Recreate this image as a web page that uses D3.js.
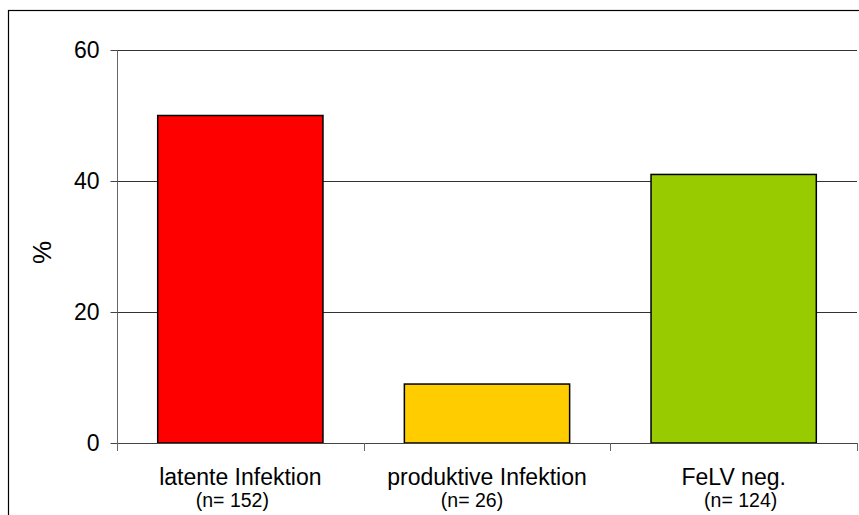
<!DOCTYPE html>
<html>
<head>
<meta charset="utf-8">
<script src="https://cdn.jsdelivr.net/npm/d3@7"></script>
<style>
  html, body { margin: 0; padding: 0; background: #fff; }
  svg { display: block; font-family: "Liberation Sans", Arial, sans-serif; }
</style>
</head>
<body>
<svg id="chart" width="859" height="515"></svg>
<script>
// Share of cats per FeLV status (%)
const categories = ["latente Infektion", "produktive Infektion", "FeLV neg."];
const counts = ["(n= 152)", "(n= 26)", "(n= 124)"];
const percent = [50, 9, 41];
const barColors = ["#ff0000", "#ffcc00", "#99cc00"];
const yTicks = [0, 20, 40, 60];
const yLabel = "%";

const svg = d3.select("#chart");
const plot = { left: 117, right: 857, top: 50, bottom: 443 };

// outer chart frame (runs past the right and bottom edges)
svg.append("rect")
  .attr("x", 8.5).attr("y", 10.5)
  .attr("width", 900).attr("height", 600)
  .attr("fill", "none").attr("stroke", "#000").attr("stroke-width", 1.2);

const x = d3.scaleBand()
  .domain(categories)
  .range([plot.left, plot.right])
  .paddingInner(0.33)
  .paddingOuter(0.165);

const y = d3.scaleLinear()
  .domain([0, 60])
  .range([plot.bottom, plot.top]);

// horizontal gridlines
svg.append("g")
  .selectAll("line")
  .data(yTicks.filter(d => d > 0))
  .join("line")
  .attr("x1", plot.left).attr("x2", plot.right)
  .attr("y1", d => Math.round(y(d)) + 0.5).attr("y2", d => Math.round(y(d)) + 0.5)
  .attr("stroke", "#333").attr("stroke-width", 1);

// bars
svg.append("g")
  .selectAll("rect")
  .data(categories)
  .join("rect")
  .attr("x", d => x(d))
  .attr("width", x.bandwidth())
  .attr("y", (d, i) => y(percent[i]))
  .attr("height", (d, i) => y(0) - y(percent[i]))
  .attr("fill", (d, i) => barColors[i])
  .attr("stroke", "#000")
  .attr("stroke-width", 1.5);

// y axis
const yAxis = svg.append("g")
  .attr("transform", `translate(${plot.left + 0.5},0)`)
  .call(d3.axisLeft(y).tickValues(yTicks).tickSize(7).tickPadding(11).tickFormat(d3.format("d")));
yAxis.select(".domain").attr("stroke", "#666").attr("d", `M0,${plot.top}V${plot.bottom + 8}`);
yAxis.selectAll(".tick line").attr("stroke", "#444");
yAxis.selectAll(".tick text")
  .attr("font-size", 23).attr("fill", "#000")
  .attr("font-family", "Liberation Sans, Arial, sans-serif");

// x axis line with ticks at the category boundaries
const xg = svg.append("g");
xg.append("line")
  .attr("x1", plot.left).attr("x2", plot.right)
  .attr("y1", plot.bottom + 0.5).attr("y2", plot.bottom + 0.5)
  .attr("stroke", "#444");
const bounds = d3.range(categories.length + 1).map(i => plot.left + i * (plot.right - plot.left) / categories.length);
xg.selectAll("line.tk")
  .data(bounds)
  .join("line")
  .attr("class", "tk")
  .attr("x1", d => Math.round(d) + 0.5).attr("x2", d => Math.round(d) + 0.5)
  .attr("y1", plot.bottom).attr("y2", plot.bottom + 8)
  .attr("stroke", "#666");

// category labels with sample sizes underneath
const nShift = [-8, -15, 7];
const labels = svg.append("g").attr("text-anchor", "middle").attr("fill", "#000");
labels.selectAll("text.cat")
  .data(categories)
  .join("text")
  .attr("class", "cat")
  .attr("x", d => x(d) + x.bandwidth() / 2)
  .attr("y", 484.5)
  .attr("font-size", 23)
  .text(d => d);
labels.selectAll("text.n")
  .data(counts)
  .join("text")
  .attr("class", "n")
  .attr("x", (d, i) => x(categories[i]) + x.bandwidth() / 2 + nShift[i])
  .attr("y", 507)
  .attr("font-size", 19.5)
  .text(d => d);

// y axis title
svg.append("text")
  .attr("transform", `translate(51,${(plot.top + plot.bottom) / 2 + 6}) rotate(-90)`)
  .attr("text-anchor", "middle")
  .attr("font-size", 26)
  .text(yLabel);
</script>
</body>
</html>
